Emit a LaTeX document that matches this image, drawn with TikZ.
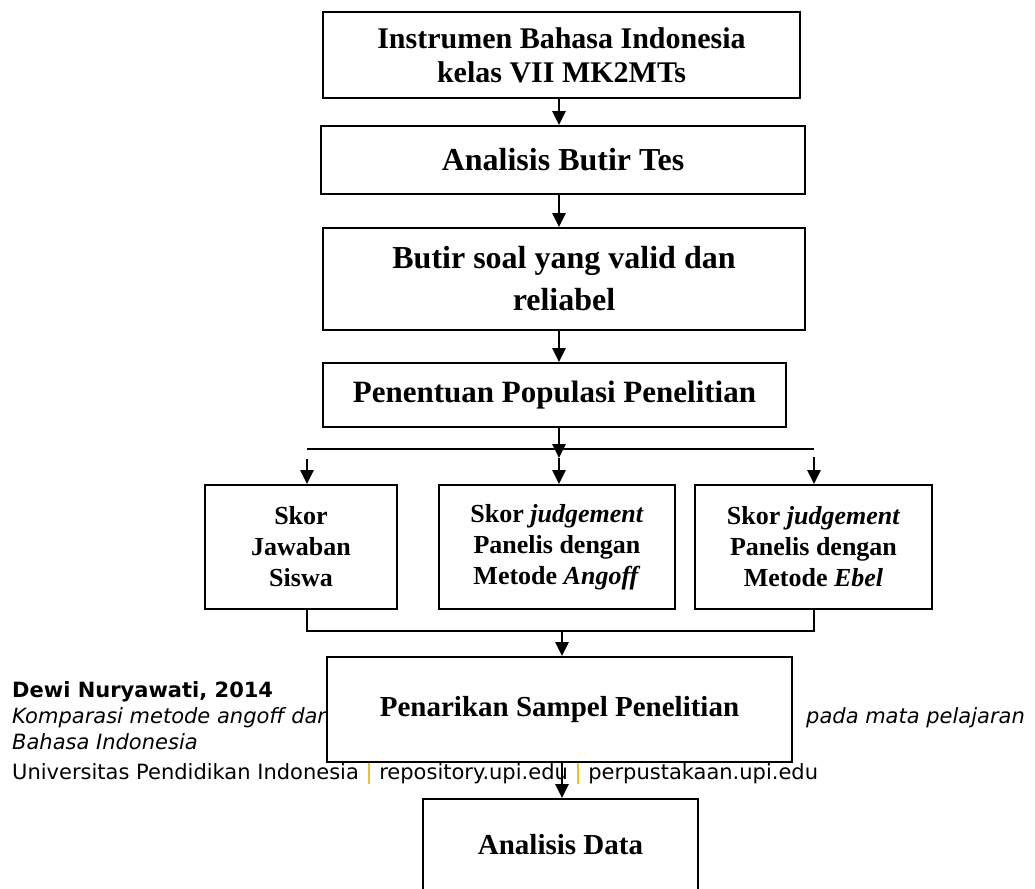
\documentclass[tikz,border=0pt]{standalone}
\usepackage{fontspec}
\usepackage{xcolor}
\usepackage{tikz}
\usetikzlibrary{arrows.meta}
\setmainfont{Liberation Serif}
\newfontfamily\footfont{DejaVu Sans}
\definecolor{sepgold}{HTML}{F2B400}

\begin{document}
\begin{tikzpicture}[x=1pt,y=-1pt,
        box/.style={draw,line width=1.8pt,fill=white,inner sep=0pt,align=center,font=\bfseries},
        arr/.style={-{Triangle[length=14pt,width=13pt]},line width=2.6pt},
        foot/.style={anchor=base west,inner sep=0pt,font=\footfont\fontsize{21}{25}\selectfont}]
        \useasboundingbox (0,0) rectangle (1035,888);
        % footer of the source page, behind the chart
        \node[foot,font=\footfont\bfseries\fontsize{21}{25}\selectfont] (author) at (12,697) {Dewi Nuryawati, 2014};
        \node[foot] (titleA) at (12,723) {\itshape Komparasi metode angoff dan};
        \node[foot] (titleB) at (806,723) {\itshape pada mata pelajaran};
        \node[foot] (titleC) at (12,749) {\itshape Bahasa Indonesia};
        \node[foot] (univ) at (12,779) {Universitas Pendidikan Indonesia {\color{sepgold}|} repository.upi.edu {\color{sepgold}|} perpustakaan.upi.edu};
        % main column
        \node[box,minimum width=477pt,minimum height=86pt,
              font=\bfseries\fontsize{30}{34}\selectfont] (instr) at (561.5,55) {%
              Instrumen Bahasa Indonesia\\kelas VII MK2MTs};
        \node[box,minimum width=484pt,minimum height=68pt,
              font=\bfseries\fontsize{32}{36}\selectfont] (butir) at (563,160) {Analisis Butir Tes};
        \node[box,minimum width=482pt,minimum height=102pt,
              font=\bfseries\fontsize{32}{42}\selectfont] (valid) at (564,279) {%
              Butir soal yang valid dan\\reliabel};
        \node[box,minimum width=463pt,minimum height=64pt,
              font=\bfseries\fontsize{31}{34}\selectfont] (popul) at (554.5,395) {Penentuan Populasi Penelitian};
        % three score boxes
        \node[box,minimum width=192pt,minimum height=124pt,
              font=\bfseries\fontsize{26}{31}\selectfont] (siswa) at (301,547) {%
              Skor\\Jawaban\\Siswa};
        \node[box,minimum width=236pt,minimum height=124pt,
              font=\bfseries\fontsize{26}{31}\selectfont] (angoff) at (557,547) {%
              Skor \textit{judgement}\\Panelis dengan\\Metode \textit{Angoff}};
        \node[box,minimum width=237pt,minimum height=124pt,
              font=\bfseries\fontsize{26}{31}\selectfont] (ebel) at (813.5,547) {%
              Skor \textit{judgement}\\Panelis dengan\\Metode \textit{Ebel}};
        \node[box,minimum width=465pt,minimum height=105pt,
              font=\bfseries\fontsize{29}{34}\selectfont] (sampel) at (559.5,709.5) {Penarikan Sampel Penelitian};
        \node[box,minimum width=275pt,minimum height=92pt,
              font=\bfseries\fontsize{29}{34}\selectfont] (data) at (560.5,845) {Analisis Data};
        % branch points
        \coordinate (mid) at (559,0);
        \coordinate (splitL) at (307,449);
        \coordinate (splitR) at (814,449);
        \coordinate (split) at (559,458);
        \coordinate (joinL) at (307,631);
        \coordinate (joinR) at (814,631);
        \coordinate (join) at (562,631);
        % connectors
        \draw[arr] (instr.south -| mid) -- (butir.north -| mid);
        \draw[arr] (butir.south -| mid) -- (valid.north -| mid);
        \draw[arr] (valid.south -| mid) -- (popul.north -| mid);
        \draw[arr] (popul.south -| mid) -- (split);
        \draw[line width=1.8pt] (splitL) -- (splitR);
        \draw[arr] (split) -- (angoff.north -| split);
        \draw[arr] ([yshift=-10pt]splitL) -- (siswa.north -| splitL);
        \draw[arr] ([yshift=-8pt]splitR) -- (ebel.north -| splitR);
        \draw[line width=1.8pt] (siswa.south -| joinL) -- (joinL) -- (joinR) -- (ebel.south -| joinR);
        \draw[arr] (join) -- (sampel.north -| join);
        \draw[arr] (sampel.south -| join) -- (data.north -| join);
\end{tikzpicture}
\end{document}
